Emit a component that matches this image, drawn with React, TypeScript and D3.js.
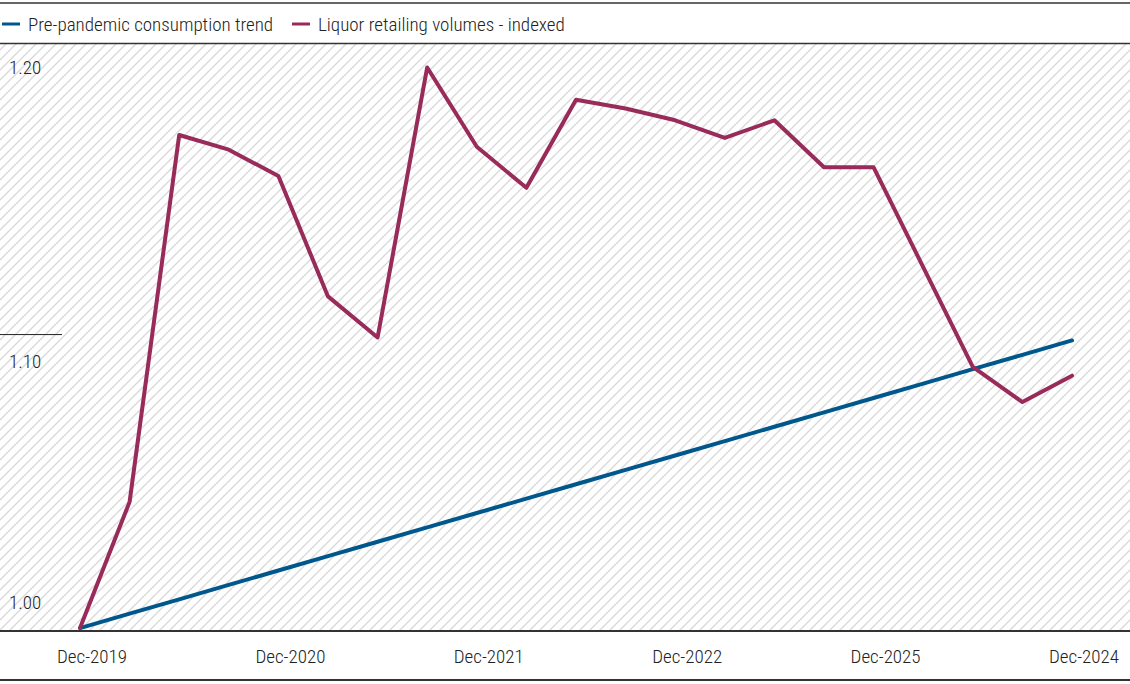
import React from 'react';
import * as d3 from 'd3';

const quarters = [
  '2019-12', '2020-03', '2020-06', '2020-09', '2020-12',
  '2021-03', '2021-06', '2021-09', '2021-12',
  '2022-03', '2022-06', '2022-09', '2022-12',
  '2023-03', '2023-06', '2023-09', '2023-12',
  '2024-03', '2024-06', '2024-09', '2024-12',
];

const trendValues = [
  1.0000, 1.0049, 1.0098, 1.0147, 1.0196, 1.0245, 1.0294, 1.0343, 1.0392, 1.0441, 1.0490,
  1.0539, 1.0588, 1.0637, 1.0686, 1.0735, 1.0784, 1.0833, 1.0882, 1.0931, 1.0980,
];

const liquorValues = [
  1.000, 1.043, 1.168, 1.163, 1.154, 1.113, 1.099, 1.191, 1.164, 1.150, 1.180,
  1.177, 1.173, 1.167, 1.173, 1.157, 1.157, 1.123, 1.089, 1.077, 1.086,
];

// x-axis labels as printed in the source (including its "Dec-2025")
const xTicks = [
  { q: '2019-12', label: 'Dec-2019' },
  { q: '2020-12', label: 'Dec-2020' },
  { q: '2021-12', label: 'Dec-2021' },
  { q: '2022-12', label: 'Dec-2022' },
  { q: '2023-12', label: 'Dec-2025' },
  { q: '2024-12', label: 'Dec-2024' },
];

const yTicks = [1.0, 1.1, 1.2];

const series = [
  { name: 'Pre-pandemic consumption trend', values: trendValues, color: '#00578c' },
  { name: 'Liquor retailing volumes - indexed', values: liquorValues, color: '#982b59' },
];

const W = 1130;
const H = 684;
const plotTop = 44;
const plotBottom = 631;
const FONT = "'Roboto Condensed', 'Liberation Sans Narrow', 'DejaVu Sans Condensed', 'Arial Narrow', sans-serif";

const App: React.FC = () => {
  const x = d3.scalePoint<string>().domain(quarters).range([80, 1072]);
  const y = d3.scaleLinear().domain([0.999, 1.199]).range([plotBottom, plotTop]);

  const line = d3.line<number>()
    .x((_, i) => x(quarters[i]) || 0)
    .y(d => y(d));

  const legendX = [2, 292];

  return (
    <div style={{ position: 'absolute', left: 0, top: 0 }}>
      <svg width={W} height={H} style={{ display: 'block', fontFamily: FONT, fontWeight: 300 }}>
        <defs>
          <pattern id="hatch" patternUnits="userSpaceOnUse" width={10} height={10}>
            <path d="M-2,2 l4,-4 M0,10 l10,-10 M8,12 l4,-4" stroke="#d9d9d9" strokeWidth={1.4} />
          </pattern>
          <clipPath id="plotClip">
            <rect x={0} y={plotTop} width={W} height={plotBottom - plotTop} />
          </clipPath>
        </defs>

        <rect x={0} y={0} width={W} height={H} fill="#fff" />
        <rect x={0} y={plotTop} width={W} height={plotBottom - plotTop} fill="url(#hatch)" />

        {/* frame lines */}
        <line x1={0} x2={W} y1={3} y2={3} stroke="#333" strokeWidth={1.6} />
        <line x1={0} x2={W} y1={43.5} y2={43.5} stroke="#333" strokeWidth={1.6} />

        {/* legend */}
        {series.map((s, i) => (
          <g key={s.name} transform={`translate(${legendX[i]},24)`}>
            <line x1={0} x2={18} y1={0} y2={0} stroke={s.color} strokeWidth={3} />
            <text x={26} y={7} fontSize={19} fill="#222">{s.name}</text>
          </g>
        ))}

        {/* y ticks */}
        {yTicks.map(t => {
          const ty = y(t);
          const inside = ty > plotTop + 5 && ty < plotBottom - 5;
          const below = ty < plotBottom - 30;
          return (
            <g key={t}>
              {inside && <line x1={0} x2={62} y1={ty} y2={ty} stroke="#222" strokeWidth={1} />}
              <text x={9} y={below ? ty + 33 : ty - 19} fontSize={19} fill="#222">{d3.format('.2f')(t)}</text>
            </g>
          );
        })}

        {/* series */}
        <g clipPath="url(#plotClip)">
          {series.map(s => (
            <path key={s.name} d={line(s.values) || ''} fill="none" stroke={s.color}
              strokeWidth={4} strokeLinejoin="round" strokeLinecap="round" />
          ))}
        </g>

        {/* x axis */}
        <line x1={0} x2={W} y1={plotBottom} y2={plotBottom} stroke="#333" strokeWidth={2} />
        {xTicks.map(t => (
          <text key={t.q} x={(x(t.q) || 0) + 12} y={663} fontSize={19} fill="#222" textAnchor="middle">
            {t.label}
          </text>
        ))}
        <line x1={0} x2={W} y1={680} y2={680} stroke="#333" strokeWidth={2} />
      </svg>
    </div>
  );
};

export default App;
